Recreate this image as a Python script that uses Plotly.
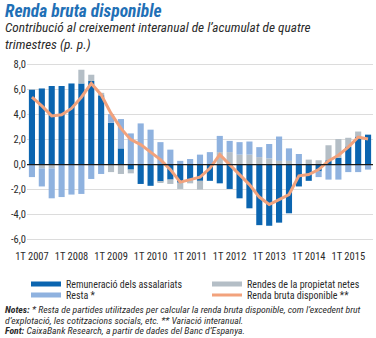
import plotly.graph_objects as go

# Quarterly categories, 1T 2007 .. 3T 2015
quarters = [f"{q}T {y}" for y in range(2007, 2016) for q in range(1, 5)][:35]
year_ticks = [f"1T {y}" for y in range(2007, 2016)]

# Contributions (percentage points)
remuneracio = [6.0, 6.1, 6.3, 6.3, 6.5, 6.5, 6.7, 5.55,
               3.35, 1.3, -0.4, -1.55, -1.7, -1.35, -1.2, -1.45,
               -1.2, -1.3, -1.3, -1.5, -1.95, -2.7, -3.5, -4.85,
               -4.9, -4.65, -3.9, -1.75, -1.3, -0.55, 0.35, 0.55,
               1.45, 2.25, 2.4]
rendes = [0.0, -0.3, -0.3, 0.0, 0.0, 1.1, 0.5, 0.2,
          -0.6, -0.75, -0.3, 0.0, 0.0, -0.1, -0.35, -0.5,
          -0.3, -0.7, 0.0, 1.0, 1.0, 0.8, 0.8, 0.6,
          0.5, 0.3, 0.3, 0.0, 0.4, 0.35, 1.2, 1.5,
          0.7, 0.4, 0.0]
resta = [-1.0, -1.45, -2.4, -2.6, -2.4, -2.35, -1.15, -0.75,
         0.7, 2.35, 2.5, 3.3, 2.8, 1.8, 1.2, 0.3,
         0.45, 0.8, 1.0, 1.3, 0.9, 1.0, 1.05, 0.8,
         1.15, 1.95, 1.0, 0.85, 0.0, -0.45, -1.2, -1.2,
         -0.6, -0.6, -0.4]
renda = [5.4, 4.7, 3.9, 4.0, 4.5, 5.4, 6.5, 5.6,
         4.1, 2.9, 2.0, 1.6, 1.0, 0.4, -0.4, -1.4,
         -1.2, -1.0, -0.3, 0.8, 0.0, -0.8, -1.6, -2.6,
         -3.2, -2.8, -2.4, -0.9, -0.8, -0.4, 0.3, 0.75,
         1.4, 2.2, 2.05]

y_ticks = [8, 6, 4, 2, 0, -2, -4, -6]
y_labels = [f"{v:.1f}".replace(".", ",") for v in y_ticks]

C_REM = "#0b65b0"
C_REN = "#b4bec6"
C_RES = "#8fb2df"
C_LINE = "#f2a27c"
NARROW = "Liberation Sans Narrow, Arial Narrow, Roboto Condensed, sans-serif"
TXT = "#2b2b2b"

fig = go.Figure()
for name, vals, col in [("Remuneració dels assalariats", remuneracio, C_REM),
                        ("Rendes de la propietat netes", rendes, C_REN),
                        ("Resta *", resta, C_RES)]:
    fig.add_trace(go.Bar(x=quarters, y=vals, marker=dict(color=col, line_width=0),
                         showlegend=False, name=name))

# legend entries drawn as wide swatches, one small legend per slot
for name, col, lg in [("Remuneració dels assalariats", C_REM, "legend"),
                      ("Rendes de la propietat netes", C_REN, "legend2"),
                      ("Resta *", C_RES, "legend3")]:
    fig.add_trace(go.Scatter(x=[None], y=[None], mode="lines", name=name,
                             line=dict(color=col, width=5), legend=lg))

fig.add_trace(go.Scatter(x=quarters, y=renda, mode="lines", name="Renda bruta disponible **",
                         line=dict(color=C_LINE, width=3), legend="legend4"))

fig.add_shape(type="line", xref="paper", x0=0, x1=1, yref="y", y0=0, y1=0,
              line=dict(color="#1a1a1a", width=1.2), layer="above")

# paper coordinate helpers (plot area: left 27, width 346, top 61.25, height 181.25)
def px(xp):
    return (xp - 27) / 346

def py(yp):
    return (242.5 - yp) / 181.25

note_font = dict(size=9.7, color=TXT, family=NARROW)
ann = [
    dict(text="<b><i>Renda bruta disponible</i></b>", x=px(4), y=py(0),
         font=dict(size=17.5, color="#1f70b6", family=NARROW)),
    dict(text="<i>Contribució al creixement interanual de l’acumulat de quatre<br>trimestres (p. p.)</i>",
         x=px(4), y=py(19), font=dict(size=13.3, color=TXT, family=NARROW)),
    dict(text="<b><i>Notes:</i></b><i> * Resta de partides utilitzades per calcular la renda bruta disponible, com l’excedent brut</i>",
         x=px(4), y=py(304), font=note_font),
    dict(text="<i>d’explotació, les cotitzacions socials, etc. ** Variació interanual.</i>",
         x=px(4), y=py(314.5), font=note_font),
    dict(text="<b><i>Font:</i></b><i> CaixaBank Research, a partir de dades del Banc d’Espanya.</i>",
         x=px(4), y=py(325), font=note_font),
]
for a in ann:
    a.update(xref="paper", yref="paper", xanchor="left", yanchor="top",
             showarrow=False, align="left", borderpad=0)

leg_common = dict(orientation="v", xanchor="left", yanchor="top",
                  font=dict(size=10, color=TXT, family=NARROW), itemwidth=30,
                  bgcolor="rgba(0,0,0,0)")

fig.update_layout(
    width=376, height=338,
    margin=dict(l=27, r=3, t=61.25, b=95.5),
    paper_bgcolor="white", plot_bgcolor="white",
    barmode="relative", bargap=0.38,
    annotations=ann,
    showlegend=True,
    legend=dict(x=px(26), y=py(270), **leg_common),
    legend2=dict(x=px(207), y=py(270), **leg_common),
    legend3=dict(x=px(26), y=py(281), **leg_common),
    legend4=dict(x=px(207), y=py(281), **leg_common),
    font=dict(family=NARROW, color=TXT),
)
fig.update_xaxes(type="category", tickvals=year_ticks, ticktext=year_ticks,
                 showgrid=False, showline=False, ticks="", ticklabelstandoff=6,
                 tickfont=dict(size=10.5, color=TXT, family=NARROW))
fig.update_yaxes(range=[-6.2, 8.3], tickvals=y_ticks, ticktext=y_labels,
                 showgrid=True, gridcolor="#dcdcdc", gridwidth=1, zeroline=False,
                 showline=False, ticks="", tickfont=dict(size=10.5, color=TXT, family=NARROW))

fig.write_html("out.html")
